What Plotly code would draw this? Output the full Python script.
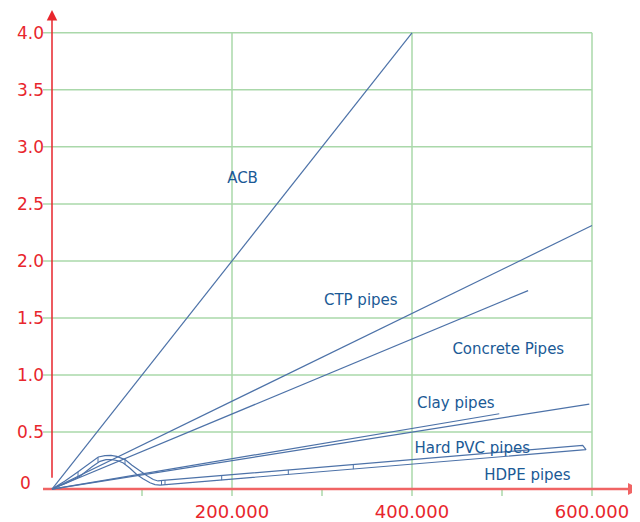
import plotly.graph_objects as go
import numpy as np

# ---- data ----
series = ["ACB", "CTP pipes", "Concrete Pipes", "Clay pipes", "Hard PVC pipes"]
end_x = [400000, 600000, 529000, 497000, 597000]
end_y = [4.0, 2.31, 1.74, 0.66, 0.745]

# HDPE pipe outline (top and bottom edge)
hdpe_top_x = [0, 14444, 27444, 40000, 51444, 58889, 65556, 71889, 81111, 88889,
              97778, 105556, 112556, 117778, 123333, 589667]
hdpe_top_y = [0, 0.070, 0.142, 0.217, 0.281, 0.293, 0.296, 0.287, 0.258, 0.209,
              0.157, 0.117, 0.084, 0.071, 0.076, 0.383]
hdpe_bot_x = [0, 15556, 31111, 44444, 53333, 60000, 66667, 73333, 79222, 86667,
              94111, 101111, 108889, 114444, 120000, 123333, 593333]
hdpe_bot_y = [0, 0.052, 0.113, 0.196, 0.243, 0.258, 0.258, 0.248, 0.229, 0.183,
              0.128, 0.091, 0.055, 0.039, 0.035, 0.035, 0.345]
joint_x = [28889, 51111, 81111, 121667, 125556, 188556, 262556, 334778]

label_text = ["ACB", "CTP pipes", "Concrete Pipes", "Clay pipes", "Hard PVC pipes", "HDPE pipes"]
label_x = [211700, 343100, 507000, 448700, 467000, 528300]
label_y = [2.72, 1.65, 1.217, 0.745, 0.345, 0.112]

y_ticks = [0.5, 1.0, 1.5, 2.0, 2.5, 3.0, 3.5, 4.0]
y_ticktext = ["0.5", "1.0", "1.5", "2.0", "2.5", "3.0", "3.5", "4.0"]
x_ticks = [200000, 400000, 600000]
x_ticktext = ["200.000", "400.000", "600.000"]
x_minor = [100000, 300000, 500000]

# ---- style ----
GREEN = "#aad8aa"
RED = "#e8262d"
XRED = "#f06464"
BLUE = "#4d72a8"
TBLUE = "#1b5a96"
FONT = "DejaVu Sans"

X_MIN, X_MAX = -11111, 653333
Y_MIN, Y_MAX = -0.0696, 4.2
GRID_LEFT = -10000
TICK_BOTTOM = -0.06

fig = go.Figure()

# horizontal gridlines
gx, gy = [], []
for v in y_ticks:
    gx += [GRID_LEFT, x_ticks[-1], None]
    gy += [v, v, None]
# vertical gridlines
for v in x_ticks:
    gx += [v, v, None]
    gy += [TICK_BOTTOM, y_ticks[-1], None]
# minor ticks below axis
for v in x_minor:
    gx += [v, v, None]
    gy += [TICK_BOTTOM, 0, None]
fig.add_trace(go.Scatter(x=gx, y=gy, mode="lines", line=dict(color=GREEN, width=1.5),
                         hoverinfo="skip", showlegend=False))

# x axis red line
fig.add_trace(go.Scatter(x=[GRID_LEFT, X_MAX - 8000], y=[0, 0], mode="lines",
                         line=dict(color=XRED, width=2.5), hoverinfo="skip", showlegend=False))

# straight series lines from origin
for name, ex, ey in zip(series, end_x, end_y):
    fig.add_trace(go.Scatter(x=[0, ex], y=[0, ey], mode="lines", name=name,
                             line=dict(color=BLUE, width=1.2), showlegend=False))

# HDPE pipe outline
px_ = list(hdpe_top_x) + list(hdpe_bot_x[::-1])
py_ = list(hdpe_top_y) + list(hdpe_bot_y[::-1])
fig.add_trace(go.Scatter(x=px_, y=py_, mode="lines", name="HDPE pipes",
                         line=dict(color=BLUE, width=1.2), showlegend=False))
# pipe joints
jx, jy = [], []
for x in joint_x:
    t = float(np.interp(x, hdpe_top_x, hdpe_top_y))
    b = float(np.interp(x, hdpe_bot_x, hdpe_bot_y))
    jx += [x, x, None]
    jy += [t, b, None]
fig.add_trace(go.Scatter(x=jx, y=jy, mode="lines", line=dict(color=BLUE, width=1),
                         hoverinfo="skip", showlegend=False))

# labels
fig.add_trace(go.Scatter(x=label_x, y=label_y, mode="text", text=label_text,
                         textfont=dict(family=FONT, size=15, color=TBLUE),
                         textposition="middle center", hoverinfo="skip",
                         showlegend=False, cliponaxis=False))

annotations = [
    # y axis with arrow
    dict(x=0, y=Y_MAX, ax=0, ay=0.087, xref="x", yref="y", axref="x", ayref="y",
         text="", showarrow=True, arrowhead=2, arrowsize=1.4, arrowwidth=1.5,
         arrowcolor=RED, standoff=0),
    # x axis arrow
    dict(x=X_MAX, y=0, ax=X_MAX - 20000, ay=0, xref="x", yref="y", axref="x", ayref="y",
         text="", showarrow=True, arrowhead=2, arrowsize=1.2, arrowwidth=2,
         arrowcolor=XRED, standoff=0),
    dict(x=0, y=0, xref="x", yref="y", text="0", showarrow=False,
         xanchor="right", yanchor="middle", xshift=-19, yshift=6,
         font=dict(family=FONT, size=17, color=RED)),
]

fig.update_layout(
    width=632, height=514,
    margin=dict(l=34, r=0, t=2, b=21),
    paper_bgcolor="white", plot_bgcolor="white",
    showlegend=False,
    annotations=annotations,
    xaxis=dict(range=[X_MIN, X_MAX], showgrid=False, zeroline=False, showline=False,
               tickvals=x_ticks, ticktext=x_ticktext, ticks="", ticklabelstandoff=2,
               tickfont=dict(family=FONT, size=18, color=RED)),
    yaxis=dict(range=[Y_MIN, Y_MAX], showgrid=False, zeroline=False, showline=False,
               tickvals=y_ticks, ticktext=y_ticktext, ticks="", ticklabelstandoff=-3,
               tickfont=dict(family=FONT, size=17, color=RED)),
)

fig.write_html("out.html")
